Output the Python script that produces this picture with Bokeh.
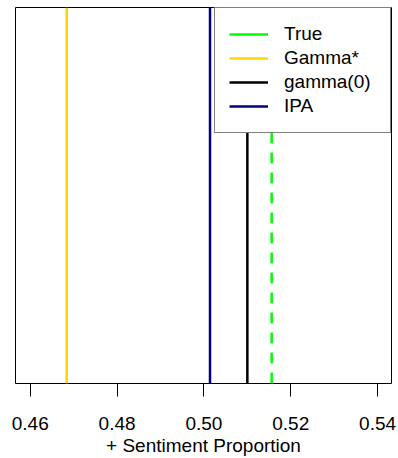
from bokeh.plotting import figure
from bokeh.models import Range1d, Legend, LegendItem, FixedTicker, PrintfTickFormatter
from bokeh.embed import file_html
from bokeh.resources import INLINE

# Estimated positive-sentiment proportion from each method
labels = ["True", "Gamma*", "gamma(0)", "IPA"]
estimates = [0.5156, 0.4684, 0.5100, 0.5014]
colors = ["#00FF00", "#FFD700", "#000000", "#000080"]
dashes = ["11 9", "solid", "solid", "solid"]
ticks = [0.46, 0.48, 0.50, 0.52, 0.54]

FONT = "Liberation Sans"

p = figure(
    width=398, height=458,
    output_backend="svg", toolbar_location=None,
    x_range=Range1d(0.4566, 0.5432), y_range=Range1d(0, 1),
    min_border_left=15, min_border_right=7,
    min_border_top=7, min_border_bottom=74,
    background_fill_color="white", border_fill_color="white",
)
p.outline_line_color = "black"
p.outline_line_width = 1
p.grid.visible = False
p.yaxis.visible = False

ax = p.xaxis[0]
ax.ticker = FixedTicker(ticks=ticks)
ax.formatter = PrintfTickFormatter(format="%.2f")
ax.axis_line_color = None
ax.major_tick_in = 0
ax.major_tick_out = 13
ax.major_tick_line_color = "black"
ax.minor_tick_line_color = None
ax.major_label_text_font = FONT
ax.major_label_text_font_size = "19px"
ax.major_label_text_color = "black"
ax.major_label_standoff = 20
ax.axis_label = "+ Sentiment Proportion"
ax.axis_label_text_font = FONT
ax.axis_label_text_font_size = "19px"
ax.axis_label_text_font_style = "normal"
ax.axis_label_text_color = "black"
ax.axis_label_standoff = 2

items = []
for lab, est, col, dash in zip(labels, estimates, colors, dashes):
    # vertical reference line spanning the full plot height (drawn bottom-up)
    p.line(x=[est, est], y=[0, 1], line_color=col, line_width=2.5, line_dash=dash)
    # hidden solid twin, used only so the legend key is a solid stroke
    key = p.line(x=[est, est], y=[0, 1], line_color=col, line_width=2.5, visible=False)
    items.append(LegendItem(label=lab, renderers=[key]))

legend = Legend(
    items=items, location="top_right", margin=0, padding=14,
    glyph_width=39, glyph_height=24, label_height=24, label_width=92,
    label_standoff=16, spacing=0, click_policy="none",
    inactive_fill_alpha=0.0,
    label_text_font=FONT, label_text_font_size="19px", label_text_color="black",
    border_line_color="black", border_line_width=1,
    background_fill_color="white", background_fill_alpha=1.0,
)
p.add_layout(legend)

open("out.html", "w").write(file_html(p, INLINE))
